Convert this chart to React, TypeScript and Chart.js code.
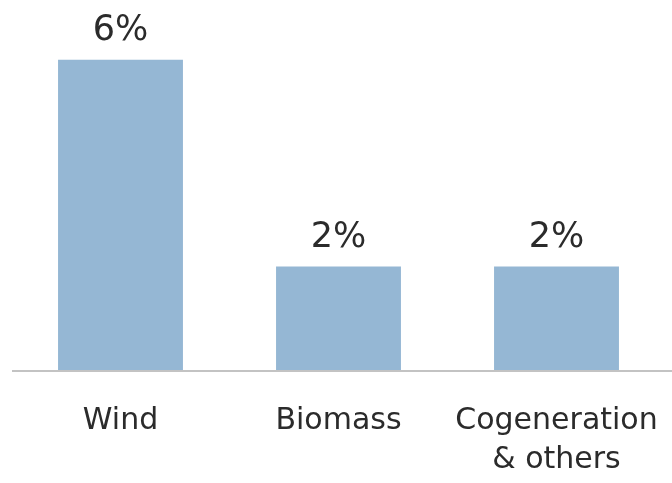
import React, { useEffect, useRef } from "react";
import { Chart, registerables } from "chart.js";

Chart.register(...registerables);

const categories: (string | string[])[] = ["Wind", "Biomass", ["Cogeneration", "& others"]];
const shares = [6, 2, 2];
const valueLabels = ["6%", "2%", "2%"];

const FONT = "'DejaVu Sans', sans-serif";

const labelPlugin = {
  id: "valueLabels",
  afterDatasetsDraw(chart: any) {
    const ctx = chart.ctx;
    const meta = chart.getDatasetMeta(0);
    ctx.save();
    ctx.fillStyle = "#2b2b2b";
    ctx.font = `35px ${FONT}`;
    ctx.textAlign = "center";
    ctx.textBaseline = "alphabetic";
    meta.data.forEach((bar: any, i: number) => {
      ctx.fillText(valueLabels[i], bar.x, bar.y - 20);
    });
    ctx.restore();
  },
};

const baselinePlugin = {
  id: "baseline",
  afterDatasetsDraw(chart: any) {
    const ctx = chart.ctx;
    const y = chart.scales.y.getPixelForValue(0);
    ctx.save();
    ctx.strokeStyle = "#c3c3c3";
    ctx.lineWidth = 2;
    ctx.beginPath();
    ctx.moveTo(12, y + 1);
    ctx.lineTo(chart.width, y + 1);
    ctx.stroke();
    ctx.restore();
  },
};

export default function App() {
  const ref = useRef<HTMLCanvasElement>(null);
  useEffect(() => {
    if (!ref.current) return;
    const chart = new Chart(ref.current, {
      type: "bar",
      data: {
        labels: categories as any,
        datasets: [
          {
            data: shares,
            backgroundColor: "#95b7d4",
            borderWidth: 0,
            barPercentage: 0.573,
            categoryPercentage: 1,
          },
        ],
      },
      options: {
        responsive: false,
        animation: false,
        layout: { padding: { top: 8, left: 11.5, right: 6.5, bottom: 0 } },
        plugins: { legend: { display: false }, tooltip: { enabled: false } },
        scales: {
          x: {
            grid: { display: false, drawTicks: false },
            border: { display: false },
            ticks: {
              color: "#2b2b2b",
              font: { family: FONT, size: 30, lineHeight: 1.3 },
              padding: 32,
              maxRotation: 0,
              autoSkip: false,
            },
            afterFit(scale: any) {
              scale.height = 113;
              scale.paddingLeft = 0;
              scale.paddingRight = 0;
              scale.paddingTop = 0;
              scale.paddingBottom = 0;
            },
          },
          y: { display: false, min: 0, max: 7 },
        },
      },
      plugins: [labelPlugin, baselinePlugin],
    });
    return () => chart.destroy();
  }, []);
  return (
    <div style={{ position: "absolute", left: 0, top: 0, width: 672, height: 483, background: "#fff" }}>
      <canvas ref={ref} width={672} height={483} />
    </div>
  );
}
